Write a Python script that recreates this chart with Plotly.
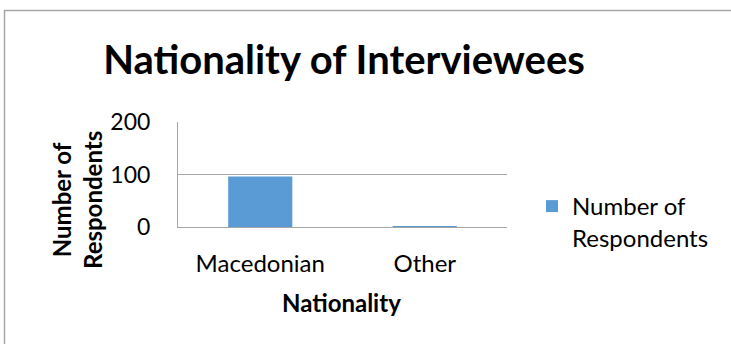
import plotly.graph_objects as go

categories = ["Macedonian", "Other"]
values = [96, 1]
series_name = "Number of Respondents"
y_ticks = [0, 100, 200]

W, H = 731, 344
L, R, T, B = 178, 507, 122, 227
pw, ph = R - L, B - T


def px(x):
    return (x - L) / pw


def py(y):
    return (B - y) / ph


fig = go.Figure()
fig.add_trace(go.Bar(
    x=categories, y=values, name="Number of<br>Respondents",
    marker=dict(color="#5b9bd5", line=dict(width=0)),
    width=0.39, showlegend=True,
))

font = "Lato, Carlito, 'Open Sans', sans-serif"

fig.update_layout(
    width=W, height=H,
    margin=dict(l=L, r=W - R, t=T, b=H - B, pad=0),
    paper_bgcolor="white", plot_bgcolor="white",
    font=dict(family=font, size=24, color="#000000"),
    title=dict(text="<b>Nationality of Interviewees</b>", x=344 / W, xanchor="center",
               xref="container", y=1 - 60 / H, yref="container", yanchor="middle",
               font=dict(size=40, family=font, color="#000000")),
    xaxis=dict(showgrid=False, showline=True, linecolor="#a6a6a6", linewidth=1,
               ticks="outside", ticklen=15, tickcolor="rgba(0,0,0,0)",
               tickfont=dict(size=24)),
    yaxis=dict(range=[0, 200], tickvals=y_ticks, showgrid=True, gridcolor="#a6a6a6",
               gridwidth=1, showline=True, linecolor="#a6a6a6", linewidth=1,
               ticks="outside", ticklen=22, tickcolor="rgba(0,0,0,0)",
               tickfont=dict(size=23), zeroline=False),
    legend=dict(x=px(532), y=py(184), xanchor="left", yanchor="top",
                valign="top", font=dict(size=24), itemwidth=30,
                tracegroupgap=0, bgcolor="rgba(0,0,0,0)"),
    bargap=0.61,
)

fig.add_annotation(text="<b>Number of<br>Respondents</b>", textangle=-90,
                   xref="paper", yref="paper", x=px(77), y=py(200),
                   xanchor="center", yanchor="middle", showarrow=False,
                   font=dict(size=24, family=font))
fig.add_annotation(text="<b>Nationality</b>",
                   xref="paper", yref="paper", x=px(341), y=py(302),
                   xanchor="center", yanchor="middle", showarrow=False,
                   font=dict(size=24, family=font))

fig.add_shape(type="rect", xref="paper", yref="paper",
              x0=px(4.5), x1=px(760),
              y0=py(400), y1=py(10.5),
              line=dict(color="#a6a6a6", width=1.5), fillcolor="rgba(0,0,0,0)",
              layer="below")

fig.write_html("out.html", config={"displayModeBar": False},
               post_script="document.body.style.margin='0';document.body.style.padding='0';"
                           "document.body.style.overflow='hidden';"
                           "document.documentElement.style.overflow='hidden';")
